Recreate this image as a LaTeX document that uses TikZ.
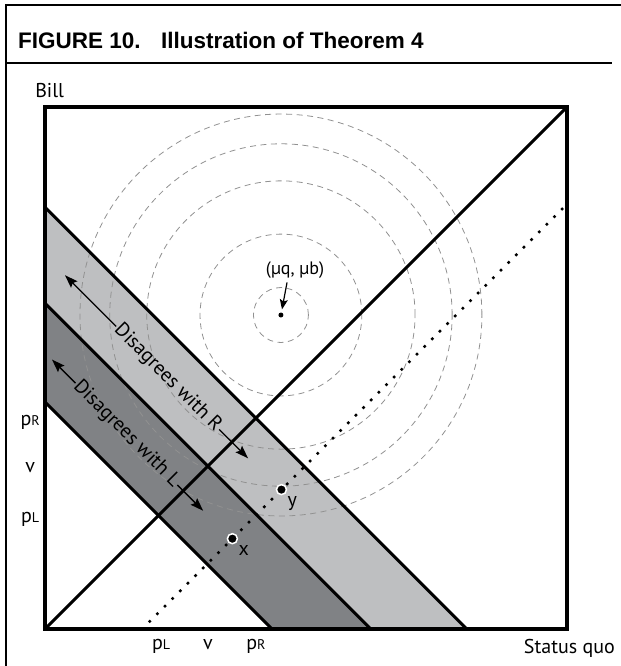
\documentclass[tikz,border=0pt]{standalone}
\usepackage{fontspec}
\setmainfont{PT Sans}
\newfontfamily\titlefont{Liberation Sans}
\usetikzlibrary{arrows.meta,positioning}

\definecolor{lightband}{RGB}{190,191,193}
\definecolor{darkband}{RGB}{128,130,133}
\definecolor{circgray}{RGB}{145,145,145}

% small index letter after p
\newcommand{\idx}[1]{{\fontsize{14}{14}\selectfont #1}}

\def\pL{2.175}
\def\vV{3.12}
\def\pR{4.04}

\begin{document}
\begin{tikzpicture}[x=52.2pt,y=52.2pt,
    bandline/.style={line width=3pt},
    circ/.style={circgray,line width=0.8pt,dash pattern=on 6pt off 4.5pt},
    arr/.style={line width=1.4pt,-{Stealth[length=13pt,width=9pt,inset=2pt]}},
    lbl/.style={font=\fontsize{20}{24}\selectfont,inner sep=0pt},
    bandtxt/.style={font=\fontsize{20}{24}\selectfont,inner sep=1pt,rotate=-45},
    ptdot/.style={circle,fill=black,draw=white,line width=1.5pt,minimum size=10pt,inner sep=0pt}]
  \useasboundingbox (-0.862,-0.709) rectangle (11.034,12.050);

  % frame and title
  \draw[line width=1.5pt] (-0.747,-0.709) -- (-0.747,11.954) -- (11.034,11.954);
  \draw[line width=2pt] (-0.747,10.843) -- (10.862,10.843);
  \node[anchor=base west,inner sep=0pt,font=\titlefont\bfseries\fontsize{22.5}{27}\selectfont] (title) at (-0.517,11.13) {FIGURE 10.\hspace{12pt} Illustration of Theorem 4};

  % bands
  \fill[lightband] (0,2*\vV) -- (0,2*\pR) -- (2*\pR,0) -- (2*\vV,0) -- cycle;
  \fill[darkband] (0,2*\pL) -- (0,2*\vV) -- (2*\vV,0) -- (2*\pL,0) -- cycle;

  % indifference circles
  \coordinate (mu) at (4.52,6.015);
  \foreach \r in {0.527,1.55,2.57,3.28,3.85}
    \draw[circ] (mu) circle (\r);

  % lines
  \draw[bandline] (0,2*\pL) -- (2*\pL,0);
  \draw[bandline] (0,2*\vV) -- (2*\vV,0);
  \draw[bandline] (0,2*\pR) -- (2*\pR,0);
  \draw[bandline] (0,0) -- (10,10);
  \draw[line width=3.6pt,line cap=round,dash pattern=on 0pt off 10.8pt] (1.86,0) -- (10,8.14);
  \draw[line width=4pt] (0,0) rectangle (10,10);

  % axis labels
  \node[lbl,anchor=base west] (bill) at (-0.19,10.19) {Bill};
  \node[lbl,anchor=base east] (sq) at (10.92,-0.479) {Status quo};
  \node[lbl,anchor=base] (ypR) at (-0.285,\pR-0.15) {p\idx{R}};
  \node[lbl,anchor=base] (yv) at (-0.285,\vV-0.12) {v};
  \node[lbl,anchor=base] (ypL) at (-0.285,\pL-0.13) {p\idx{L}};
  \node[lbl,anchor=base] (xpL) at (\pL+0.05,-0.40) {p\idx{L}};
  \node[lbl,anchor=base] (xv) at (\vV,-0.40) {v};
  \node[lbl,anchor=base] (xpR) at (\pR,-0.40) {p\idx{R}};

  % ideal point
  \node[circle,fill=black,inner sep=0pt,minimum size=5pt] (ideal) at (mu) {};
  \node[lbl,font=\fontsize{18}{22}\selectfont] (mulbl) at (4.79,6.88) {(µq, µb)};
  \draw[arr,line width=1.2pt,-{Stealth[length=10pt,width=8pt,inset=2pt]},shorten >=3pt] ([xshift=-8pt,yshift=-4pt]mulbl.south) -- (ideal);

  % x and y
  \node[ptdot] (ptx) at (3.59,1.73) {};
  \node[ptdot] (pty) at (4.53,2.67) {};
  \node[lbl,below right=3pt and 2pt of ptx] (xlbl) {x};
  \node[lbl,below right=3pt and 2pt of pty] (ylbl) {y};

  % band labels
  \coordinate (tipRa) at (0.383,6.777);
  \coordinate (tipRb) at (3.89,3.27);
  \coordinate (tipLa) at (0.134,5.161);
  \coordinate (tipLb) at (3.03,2.265);
  \node[bandtxt] (txtR) at (2.35,4.81) {Disagrees with R};
  \node[bandtxt] (txtL) at (1.56,3.735) {Disagrees with L};
  \draw[arr] (txtR.west) -- (tipRa);
  \draw[arr] (txtR.east) -- (tipRb);
  \draw[arr] (txtL.west) -- (tipLa);
  \draw[arr] (txtL.east) -- (tipLb);
\end{tikzpicture}
\end{document}
